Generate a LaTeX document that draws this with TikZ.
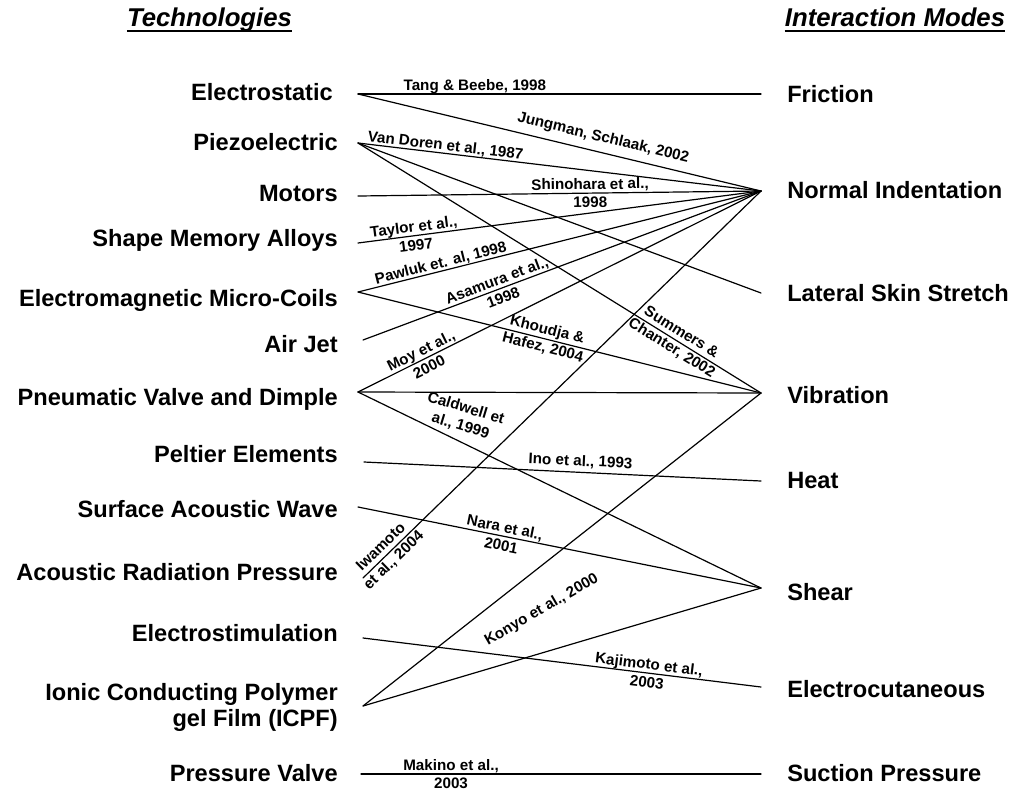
\documentclass[tikz,border=0pt]{standalone}
\usepackage{fontspec}
\setmainfont{Liberation Sans}

\begin{document}
\begin{tikzpicture}[line cap=round,line join=round,x=0.75pt,y=-0.75pt,
  head/.style={font=\fontsize{19.3}{22}\selectfont\bfseries\itshape,inner sep=0pt,anchor=base,text depth=3.4pt},
  tech/.style={font=\fontsize{17.7}{19.5}\selectfont\bfseries,inner sep=0pt,anchor=base east,align=right},
  mode/.style={font=\fontsize{17.7}{19.5}\selectfont\bfseries,inner sep=0pt,anchor=base west},
  cite/.style={font=\fontsize{11.4}{13.8}\selectfont\bfseries,inner sep=0pt,align=center},
  link/.style={line width=0.9pt}]
\useasboundingbox (0,0) rectangle (1013,793);
% column headings
\node[head] (th) at (209.5,26) {Technologies};
\node[head] (mh) at (895,26) {Interaction Modes};
\draw[line width=1.5pt,line cap=butt] (th.south west) -- (th.south east);
\draw[line width=1.5pt,line cap=butt] (mh.south west) -- (mh.south east);
% technologies
\node[tech] (es) at (333,100) {Electrostatic};
\node[tech] (pz) at (338,150.5) {Piezoelectric};
\node[tech] (mo) at (338,201.5) {Motors};
\node[tech] (sma) at (338,246.5) {Shape Memory Alloys};
\node[tech] (em) at (338,306.5) {Electromagnetic Micro-Coils};
\node[tech] (aj) at (338,352) {Air Jet};
\node[tech] (pvd) at (338,405) {Pneumatic Valve and Dimple};
\node[tech] (pe) at (338,462.5) {Peltier Elements};
\node[tech] (saw) at (338,517.5) {Surface Acoustic Wave};
\node[tech] (arp) at (338,580.5) {Acoustic Radiation Pressure};
\node[tech] (est) at (338,641) {Electrostimulation};
\node[tech,anchor=east] (icpf) at (338,707) {Ionic Conducting Polymer\\gel Film (ICPF)};
\node[tech] (pv) at (338,781) {Pressure Valve};
% interaction modes
\node[mode] (fr) at (787,102) {Friction};
\node[mode] (ni) at (787,198.5) {Normal Indentation};
\node[mode] (lss) at (787,301.5) {Lateral Skin Stretch};
\node[mode] (vib) at (787,403) {Vibration};
\node[mode] (heat) at (787,488.5) {Heat};
\node[mode] (sh) at (787,600) {Shear};
\node[mode] (ec) at (787,697) {Electrocutaneous};
\node[mode] (sp) at (787,781) {Suction Pressure};
% line ends
\coordinate (p-es) at (358,94);
\coordinate (p-pz) at (358,143);
\coordinate (p-mo) at (358,196);
\coordinate (p-sma) at (358,243);
\coordinate (p-em) at (358,292);
\coordinate (p-aj) at (363,340);
\coordinate (p-pvd) at (358,392);
\coordinate (p-pe) at (364,462);
\coordinate (p-saw) at (358,507);
\coordinate (p-arp) at (363,578);
\coordinate (p-est) at (363,638);
\coordinate (p-icpf) at (363,706);
\coordinate (p-pv) at (361,774);
\coordinate (p-fr) at (761,94);
\coordinate (p-ni) at (761,191);
\coordinate (p-lss) at (761,293);
\coordinate (p-vib) at (761,393);
\coordinate (p-heat) at (761,481);
\coordinate (p-sh) at (761,588);
\coordinate (p-ec) at (761,687);
\coordinate (p-sp) at (761,774);
% links
\draw[link] (p-es) -- node[cite,pos=.29,sloped,above] {Tang \& Beebe, 1998} (p-fr);
\draw[link] (p-es) -- node[cite,pos=.6,sloped,above=5pt] {Jungman, Schlaak, 2002} (p-ni);
\draw[link] (p-pz) -- node[cite,pos=.215,sloped,above] {Van Doren et al., 1987} (p-ni);
\draw[link] (p-pz) -- (p-lss);
\draw[link] (p-pz) -- node[cite,pos=.79,sloped] {Summers \&\\Chanter, 2002} (p-vib);
\draw[link] (p-mo) -- node[cite,pos=.576,sloped] {Shinohara et al.,\\1998} (p-ni);
\draw[link] (p-sma) -- node[cite,pos=.141,sloped] {Taylor et al.,\\1997} (p-ni);
\draw[link] (p-em) -- node[cite,pos=.21,sloped,above] {Pawluk et. al, 1998} (p-ni);
\draw[link] (p-em) -- node[cite,pos=.464,sloped] {Khoudja \&\\Hafez, 2004} (p-vib);
\draw[link] (p-aj) -- node[cite,pos=.344,sloped] {Asamura et al.,\\1998} (p-ni);
\draw[link] (p-pvd) -- node[cite,pos=.166,sloped] {Moy et al.,\\2000} (p-ni);
\draw[link] (p-pvd) -- (p-vib);
\draw[link] (p-pvd) -- node[cite,pos=.261,yshift=19.4pt,rotate=-17] {Caldwell et\\al., 1999} (p-sh);
\draw[link] (p-pe) -- node[cite,pos=.544,sloped,above=2.5pt] {Ino et al., 1993} (p-heat);
\draw[link] (p-saw) -- node[cite,pos=.36,sloped] {Nara et al.,\\2001} (p-sh);
\draw[link] (p-arp) -- node[cite,pos=.062,sloped] {Iwamoto\\et al., 2004} (p-ni);
\draw[link] (p-icpf) -- node[cite,pos=.449,yshift=-33.4pt,rotate=30] {Konyo et al., 2000} (p-vib);
\draw[link] (p-icpf) -- (p-sh);
\draw[link] (p-est) -- node[cite,pos=.716,sloped] {Kajimoto et al.,\\2003} (p-ec);
\draw[link] (p-pv) -- node[cite,pos=.225] {Makino et al.,\\2003} (p-sp);
\end{tikzpicture}
\end{document}
